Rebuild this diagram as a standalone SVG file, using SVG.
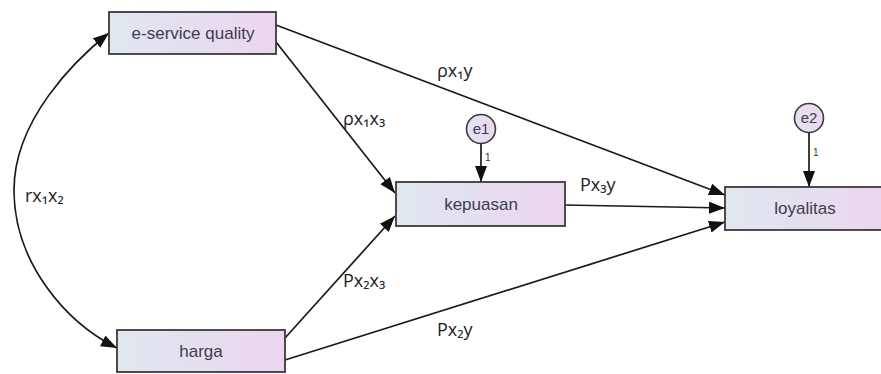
<svg xmlns="http://www.w3.org/2000/svg" width="881" height="374" viewBox="0 0 881 374">
  <style>
    .box { stroke: #3a3a3a; stroke-width: 1.8; fill: url(#boxFill); }
    .err { stroke: #3a3a3a; stroke-width: 1.6; fill: url(#errFill); }
    .name { font-family: "Liberation Sans", Arial, sans-serif; font-size: 17px; fill: #3d3d4d; text-anchor: middle; }
    .ename { font-family: "Liberation Sans", Arial, sans-serif; font-size: 15px; fill: #3d3d4d; text-anchor: middle; }
    .one { font-family: "Liberation Sans", Arial, sans-serif; font-size: 10px; fill: #333; }
    .coef { font-family: "Open Sans", "Liberation Sans", "DejaVu Sans", sans-serif; font-size: 18px; fill: #222; }
    .edge { stroke: #1a1a1a; stroke-width: 1.7; fill: none; marker-end: url(#arrow); }
  </style>
  <defs>
    <linearGradient id="boxFill" x1="0" y1="0" x2="1" y2="0">
      <stop offset="0" stop-color="#dfe7ee"/>
      <stop offset="1" stop-color="#ecd5f0"/>
    </linearGradient>
    <linearGradient id="errFill" x1="0" y1="0" x2="1" y2="0">
      <stop offset="0" stop-color="#e4e2f0"/>
      <stop offset="1" stop-color="#ebd8f0"/>
    </linearGradient>
    <marker id="arrow" markerUnits="userSpaceOnUse" markerWidth="17" markerHeight="13" refX="16" refY="6" orient="auto-start-reverse">
      <path d="M0,0 L16,6 L0,12 z" fill="#111"/>
    </marker>
  </defs>

  <!-- paths and covariance -->
  <g id="connectors">
    <path class="edge" d="M109,33 C75,60 14,120 14,190 C14,262 65,322 117,348" marker-start="url(#arrow)"/>
    <line class="edge" x1="276" y1="25" x2="725" y2="195"/>
    <line class="edge" x1="276" y1="42" x2="395" y2="193"/>
    <line class="edge" x1="285" y1="338" x2="395" y2="216"/>
    <line class="edge" x1="285" y1="360" x2="725" y2="222"/>
    <line class="edge" x1="565" y1="205" x2="725" y2="208"/>
    <line class="edge" x1="481" y1="143" x2="481" y2="182"/>
    <line class="edge" x1="809" y1="132" x2="809" y2="187"/>
  </g>

  <g id="e-service-quality">
    <rect class="box" x="109" y="12" width="167" height="42"/>
    <text class="name" x="193" y="39">e-service quality</text>
  </g>
  <g id="harga">
    <rect class="box" x="117" y="330" width="168" height="42"/>
    <text class="name" x="201" y="357">harga</text>
  </g>
  <g id="kepuasan">
    <rect class="box" x="396" y="182" width="169" height="44"/>
    <text class="name" x="481" y="210">kepuasan</text>
  </g>
  <g id="loyalitas">
    <rect class="box" x="725" y="187" width="168" height="43"/>
    <text class="name" x="805" y="214">loyalitas</text>
  </g>
  <g id="e1">
    <circle class="err" cx="481" cy="129" r="14.5"/>
    <text class="ename" x="481" y="134">e1</text>
    <text class="one" x="485" y="161">1</text>
  </g>
  <g id="e2">
    <circle class="err" cx="809" cy="118" r="14.5"/>
    <text class="ename" x="809" y="123">e2</text>
    <text class="one" x="813" y="156">1</text>
  </g>

  <!-- coefficient labels -->
  <g id="labels">
    <text class="coef" x="437" y="77">ρx₁y</text>
    <text class="coef" x="343" y="125">ρx₁x₃</text>
    <text class="coef" x="580" y="191">Px₃y</text>
    <text class="coef" x="343" y="287">Px₂x₃</text>
    <text class="coef" x="437" y="336">Px₂y</text>
    <text class="coef" x="25" y="202">rx₁x₂</text>
  </g>
</svg>
